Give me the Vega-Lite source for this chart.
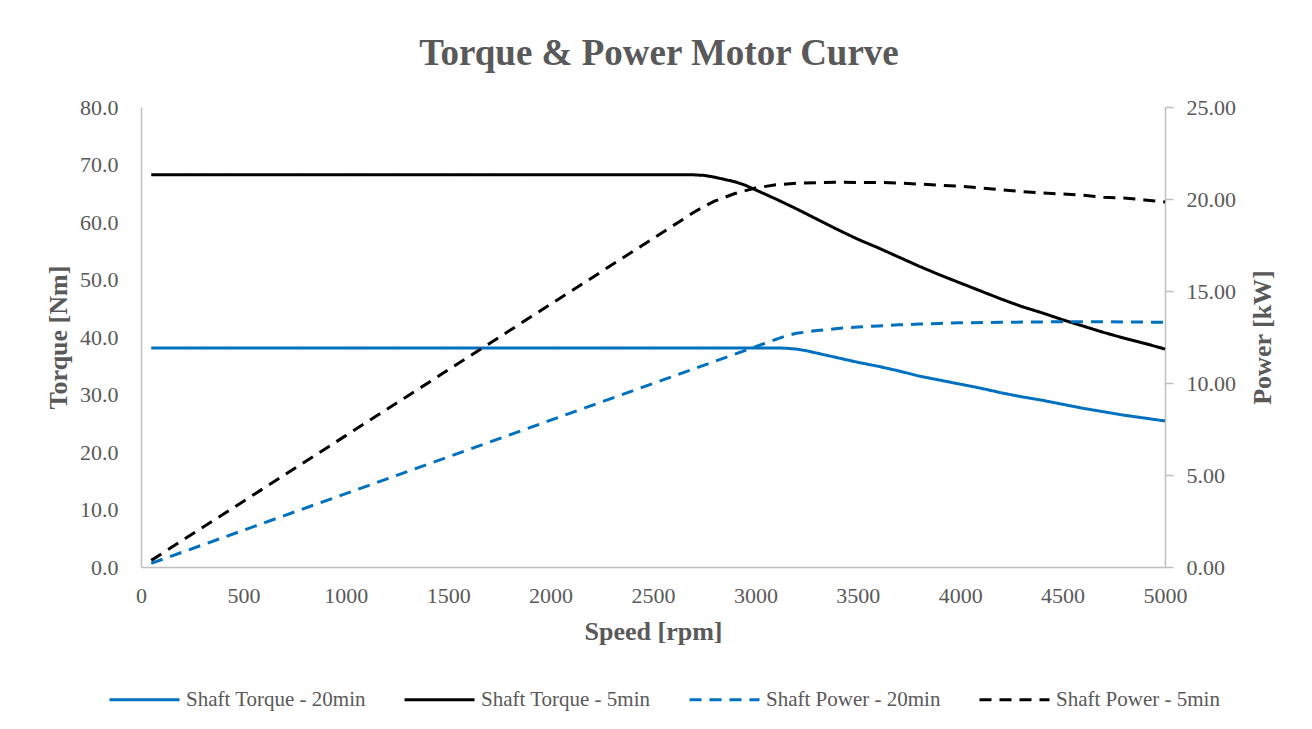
{
  "$schema": "https://vega.github.io/schema/vega-lite/v6.json",
  "width": 1024,
  "height": 460,
  "autosize": {"type": "none"},
  "padding": {"left": 141, "top": 107, "right": 147, "bottom": 162},
  "background": "white",
  "title": {
    "text": "Torque & Power Motor Curve",
    "anchor": "middle",
    "font": "Liberation Serif",
    "fontSize": 37,
    "fontWeight": "bold",
    "color": "#595959",
    "offset": 23,
    "dx": 6
  },
  "datasets": {
    "torque": [
      {"rpm": 50, "series": "Shaft Torque - 20min", "torque": 38.1},
      {"rpm": 1000, "series": "Shaft Torque - 20min", "torque": 38.1},
      {"rpm": 2000, "series": "Shaft Torque - 20min", "torque": 38.1},
      {"rpm": 3100, "series": "Shaft Torque - 20min", "torque": 38.1},
      {"rpm": 3150, "series": "Shaft Torque - 20min", "torque": 38.05},
      {"rpm": 3200, "series": "Shaft Torque - 20min", "torque": 37.9},
      {"rpm": 3250, "series": "Shaft Torque - 20min", "torque": 37.6},
      {"rpm": 3300, "series": "Shaft Torque - 20min", "torque": 37.2},
      {"rpm": 3400, "series": "Shaft Torque - 20min", "torque": 36.4},
      {"rpm": 3500, "series": "Shaft Torque - 20min", "torque": 35.6},
      {"rpm": 3600, "series": "Shaft Torque - 20min", "torque": 34.9},
      {"rpm": 3700, "series": "Shaft Torque - 20min", "torque": 34.1},
      {"rpm": 3800, "series": "Shaft Torque - 20min", "torque": 33.2},
      {"rpm": 3900, "series": "Shaft Torque - 20min", "torque": 32.5},
      {"rpm": 4000, "series": "Shaft Torque - 20min", "torque": 31.8},
      {"rpm": 4100, "series": "Shaft Torque - 20min", "torque": 31.1},
      {"rpm": 4200, "series": "Shaft Torque - 20min", "torque": 30.3},
      {"rpm": 4300, "series": "Shaft Torque - 20min", "torque": 29.6},
      {"rpm": 4400, "series": "Shaft Torque - 20min", "torque": 29.0},
      {"rpm": 4500, "series": "Shaft Torque - 20min", "torque": 28.3},
      {"rpm": 4600, "series": "Shaft Torque - 20min", "torque": 27.6},
      {"rpm": 4700, "series": "Shaft Torque - 20min", "torque": 27.0},
      {"rpm": 4800, "series": "Shaft Torque - 20min", "torque": 26.4},
      {"rpm": 4900, "series": "Shaft Torque - 20min", "torque": 25.9},
      {"rpm": 5000, "series": "Shaft Torque - 20min", "torque": 25.4},
      {"rpm": 50, "series": "Shaft Torque - 5min", "torque": 68.2},
      {"rpm": 1000, "series": "Shaft Torque - 5min", "torque": 68.2},
      {"rpm": 2000, "series": "Shaft Torque - 5min", "torque": 68.2},
      {"rpm": 2700, "series": "Shaft Torque - 5min", "torque": 68.2},
      {"rpm": 2750, "series": "Shaft Torque - 5min", "torque": 68.1},
      {"rpm": 2800, "series": "Shaft Torque - 5min", "torque": 67.8},
      {"rpm": 2850, "series": "Shaft Torque - 5min", "torque": 67.4},
      {"rpm": 2900, "series": "Shaft Torque - 5min", "torque": 67.0},
      {"rpm": 2950, "series": "Shaft Torque - 5min", "torque": 66.4},
      {"rpm": 3000, "series": "Shaft Torque - 5min", "torque": 65.6},
      {"rpm": 3100, "series": "Shaft Torque - 5min", "torque": 64.0},
      {"rpm": 3200, "series": "Shaft Torque - 5min", "torque": 62.3},
      {"rpm": 3300, "series": "Shaft Torque - 5min", "torque": 60.5},
      {"rpm": 3400, "series": "Shaft Torque - 5min", "torque": 58.7},
      {"rpm": 3500, "series": "Shaft Torque - 5min", "torque": 57.0},
      {"rpm": 3600, "series": "Shaft Torque - 5min", "torque": 55.5},
      {"rpm": 3700, "series": "Shaft Torque - 5min", "torque": 53.9},
      {"rpm": 3800, "series": "Shaft Torque - 5min", "torque": 52.3},
      {"rpm": 3900, "series": "Shaft Torque - 5min", "torque": 50.8},
      {"rpm": 4000, "series": "Shaft Torque - 5min", "torque": 49.4},
      {"rpm": 4100, "series": "Shaft Torque - 5min", "torque": 48.0},
      {"rpm": 4200, "series": "Shaft Torque - 5min", "torque": 46.6},
      {"rpm": 4300, "series": "Shaft Torque - 5min", "torque": 45.3},
      {"rpm": 4400, "series": "Shaft Torque - 5min", "torque": 44.2},
      {"rpm": 4500, "series": "Shaft Torque - 5min", "torque": 43.0},
      {"rpm": 4600, "series": "Shaft Torque - 5min", "torque": 41.9},
      {"rpm": 4700, "series": "Shaft Torque - 5min", "torque": 40.8},
      {"rpm": 4800, "series": "Shaft Torque - 5min", "torque": 39.8},
      {"rpm": 4900, "series": "Shaft Torque - 5min", "torque": 38.9},
      {"rpm": 5000, "series": "Shaft Torque - 5min", "torque": 37.9}
    ],
    "power": [
      {"rpm": 50, "series": "Shaft Power - 20min", "power": 0.2},
      {"rpm": 1000, "series": "Shaft Power - 20min", "power": 3.99},
      {"rpm": 2000, "series": "Shaft Power - 20min", "power": 7.98},
      {"rpm": 3100, "series": "Shaft Power - 20min", "power": 12.37},
      {"rpm": 3150, "series": "Shaft Power - 20min", "power": 12.57},
      {"rpm": 3200, "series": "Shaft Power - 20min", "power": 12.7},
      {"rpm": 3300, "series": "Shaft Power - 20min", "power": 12.85},
      {"rpm": 3400, "series": "Shaft Power - 20min", "power": 12.96},
      {"rpm": 3500, "series": "Shaft Power - 20min", "power": 13.04},
      {"rpm": 3600, "series": "Shaft Power - 20min", "power": 13.1},
      {"rpm": 3700, "series": "Shaft Power - 20min", "power": 13.16},
      {"rpm": 3800, "series": "Shaft Power - 20min", "power": 13.2},
      {"rpm": 3900, "series": "Shaft Power - 20min", "power": 13.24},
      {"rpm": 4000, "series": "Shaft Power - 20min", "power": 13.27},
      {"rpm": 4200, "series": "Shaft Power - 20min", "power": 13.3},
      {"rpm": 4500, "series": "Shaft Power - 20min", "power": 13.33},
      {"rpm": 4800, "series": "Shaft Power - 20min", "power": 13.32},
      {"rpm": 5000, "series": "Shaft Power - 20min", "power": 13.3},
      {"rpm": 50, "series": "Shaft Power - 5min", "power": 0.36},
      {"rpm": 1000, "series": "Shaft Power - 5min", "power": 7.14},
      {"rpm": 2000, "series": "Shaft Power - 5min", "power": 14.28},
      {"rpm": 2700, "series": "Shaft Power - 5min", "power": 19.28},
      {"rpm": 2750, "series": "Shaft Power - 5min", "power": 19.6},
      {"rpm": 2800, "series": "Shaft Power - 5min", "power": 19.88},
      {"rpm": 2900, "series": "Shaft Power - 5min", "power": 20.3},
      {"rpm": 3000, "series": "Shaft Power - 5min", "power": 20.6},
      {"rpm": 3100, "series": "Shaft Power - 5min", "power": 20.77},
      {"rpm": 3200, "series": "Shaft Power - 5min", "power": 20.86},
      {"rpm": 3300, "series": "Shaft Power - 5min", "power": 20.89},
      {"rpm": 3400, "series": "Shaft Power - 5min", "power": 20.91},
      {"rpm": 3500, "series": "Shaft Power - 5min", "power": 20.9},
      {"rpm": 3600, "series": "Shaft Power - 5min", "power": 20.9},
      {"rpm": 3700, "series": "Shaft Power - 5min", "power": 20.87},
      {"rpm": 3800, "series": "Shaft Power - 5min", "power": 20.81},
      {"rpm": 3900, "series": "Shaft Power - 5min", "power": 20.75},
      {"rpm": 4000, "series": "Shaft Power - 5min", "power": 20.69},
      {"rpm": 4100, "series": "Shaft Power - 5min", "power": 20.6},
      {"rpm": 4200, "series": "Shaft Power - 5min", "power": 20.5},
      {"rpm": 4300, "series": "Shaft Power - 5min", "power": 20.4},
      {"rpm": 4400, "series": "Shaft Power - 5min", "power": 20.33},
      {"rpm": 4500, "series": "Shaft Power - 5min", "power": 20.27},
      {"rpm": 4600, "series": "Shaft Power - 5min", "power": 20.2},
      {"rpm": 4700, "series": "Shaft Power - 5min", "power": 20.1},
      {"rpm": 4800, "series": "Shaft Power - 5min", "power": 20.05},
      {"rpm": 4900, "series": "Shaft Power - 5min", "power": 19.95},
      {"rpm": 5000, "series": "Shaft Power - 5min", "power": 19.84}
    ]
  },
  "encoding": {
    "x": {
      "field": "rpm",
      "type": "quantitative",
      "scale": {"domain": [0, 5000], "nice": false},
      "axis": {
        "title": "Speed [rpm]",
        "values": [0, 500, 1000, 1500, 2000, 2500, 3000, 3500, 4000, 4500, 5000],
        "format": "d",
        "labelFlush": false,
        "labelPadding": 18,
        "titlePadding": 12
      }
    },
    "color": {
      "field": "series",
      "type": "nominal",
      "scale": {
        "domain": ["Shaft Torque - 20min", "Shaft Torque - 5min", "Shaft Power - 20min", "Shaft Power - 5min"],
        "range": ["#0070C0", "#000000", "#0070C0", "#000000"]
      },
      "legend": {
        "title": null,
        "orient": "none",
        "legendX": -33,
        "legendY": 556,
        "direction": "horizontal",
        "symbolType": "stroke",
        "symbolSize": 4900,
        "symbolStrokeWidth": 3,
        "labelFont": "Liberation Serif",
        "labelFontSize": 21,
        "labelColor": "#595959",
        "labelLimit": 400,
        "columnPadding": 32,
        "labelOffset": 5
      }
    },
    "strokeDash": {
      "field": "series",
      "type": "nominal",
      "scale": {
        "domain": ["Shaft Torque - 20min", "Shaft Torque - 5min", "Shaft Power - 20min", "Shaft Power - 5min"],
        "range": [[1, 0], [1, 0], [12, 8], [12, 8]]
      },
      "legend": {
        "title": null,
        "orient": "none",
        "legendX": -33,
        "legendY": 556,
        "direction": "horizontal",
        "symbolType": "stroke",
        "symbolSize": 4900,
        "symbolStrokeWidth": 3,
        "labelFont": "Liberation Serif",
        "labelFontSize": 21,
        "labelColor": "#595959",
        "labelLimit": 400,
        "columnPadding": 32,
        "labelOffset": 5
      }
    }
  },
  "layer": [
    {
      "data": {"name": "torque"},
      "mark": {"type": "line", "strokeWidth": 3, "strokeCap": "butt"},
      "encoding": {
        "y": {
          "field": "torque",
          "type": "quantitative",
          "scale": {"domain": [0, 80], "nice": false},
          "axis": {
            "title": "Torque [Nm]",
            "orient": "left",
            "values": [0, 10, 20, 30, 40, 50, 60, 70, 80],
            "format": ".1f",
            "ticks": false,
            "labelPadding": 23,
            "titlePadding": 8
          }
        }
      }
    },
    {
      "data": {"name": "power"},
      "mark": {"type": "line", "strokeWidth": 3, "strokeCap": "butt"},
      "encoding": {
        "y": {
          "field": "power",
          "type": "quantitative",
          "scale": {"domain": [0, 25], "nice": false},
          "axis": {
            "title": "Power [kW]",
            "orient": "right",
            "values": [0, 5, 10, 15, 20, 25],
            "format": ".2f",
            "ticks": true,
            "tickSize": 8,
            "tickColor": "#bfbfbf",
            "tickWidth": 1.5,
            "labelPadding": 13,
            "titlePadding": 14,
            "titleAngle": -90,
            "titleBaseline": "top"
          }
        }
      }
    }
  ],
  "resolve": {"scale": {"y": "independent"}},
  "config": {
    "view": {"stroke": null},
    "axis": {
      "grid": false,
      "ticks": false,
      "domainColor": "#bfbfbf",
      "domainWidth": 1.5,
      "labelFont": "Liberation Serif",
      "labelFontSize": 22,
      "labelColor": "#595959",
      "titleFont": "Liberation Serif",
      "titleFontSize": 26,
      "titleFontWeight": "bold",
      "titleColor": "#595959"
    }
  }
}
